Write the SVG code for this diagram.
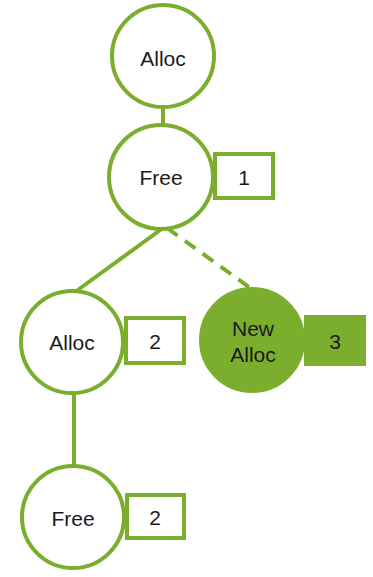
<svg xmlns="http://www.w3.org/2000/svg" width="373" height="577" viewBox="0 0 373 577">
<style>
.n{fill:#fff;stroke:#7aae2c;stroke-width:4}
.f{fill:#7aae2c;stroke:#7aae2c;stroke-width:4}
.c{stroke:#7aae2c;stroke-width:4;fill:none}
.d{stroke-dasharray:13 9}
text{font-family:"Liberation Sans",Arial,sans-serif;font-size:21px;fill:#1a1a1a;text-anchor:middle;dominant-baseline:central}
</style>
<rect width="373" height="577" fill="#fff"/>
<g id="connectors">
<line class="c" x1="163" y1="107" x2="163" y2="126"/>
<line class="c" x1="163" y1="228" x2="75" y2="292"/>
<line class="c d" x1="167" y1="228" x2="253" y2="290"/>
<line class="c" x1="74" y1="393" x2="74" y2="468"/>
</g>
<g id="alloc1"><circle class="n" cx="163" cy="56" r="51"/><text x="163" y="58">Alloc</text></g>
<g id="free1"><circle class="n" cx="161" cy="177" r="52"/><text x="161" y="177">Free</text></g>
<g id="box1"><rect class="n" x="215" y="154" width="58" height="44"/><text x="244" y="177">1</text></g>
<g id="alloc2"><circle class="n" cx="72" cy="342" r="51"/><text x="72" y="342">Alloc</text></g>
<g id="box2"><rect class="n" x="126" y="318" width="58" height="45"/><text x="155" y="341">2</text></g>
<g id="newalloc"><circle class="f" cx="252" cy="340" r="51"/><text x="253" y="328">New</text><text x="253" y="354">Alloc</text></g>
<g id="box3"><rect class="f" x="306" y="317" width="58" height="47"/><text x="335" y="341">3</text></g>
<g id="free2"><circle class="n" cx="73" cy="517" r="51"/><text x="73" y="518">Free</text></g>
<g id="box4"><rect class="n" x="127" y="495" width="57" height="43"/><text x="155" y="517">2</text></g>
</svg>
